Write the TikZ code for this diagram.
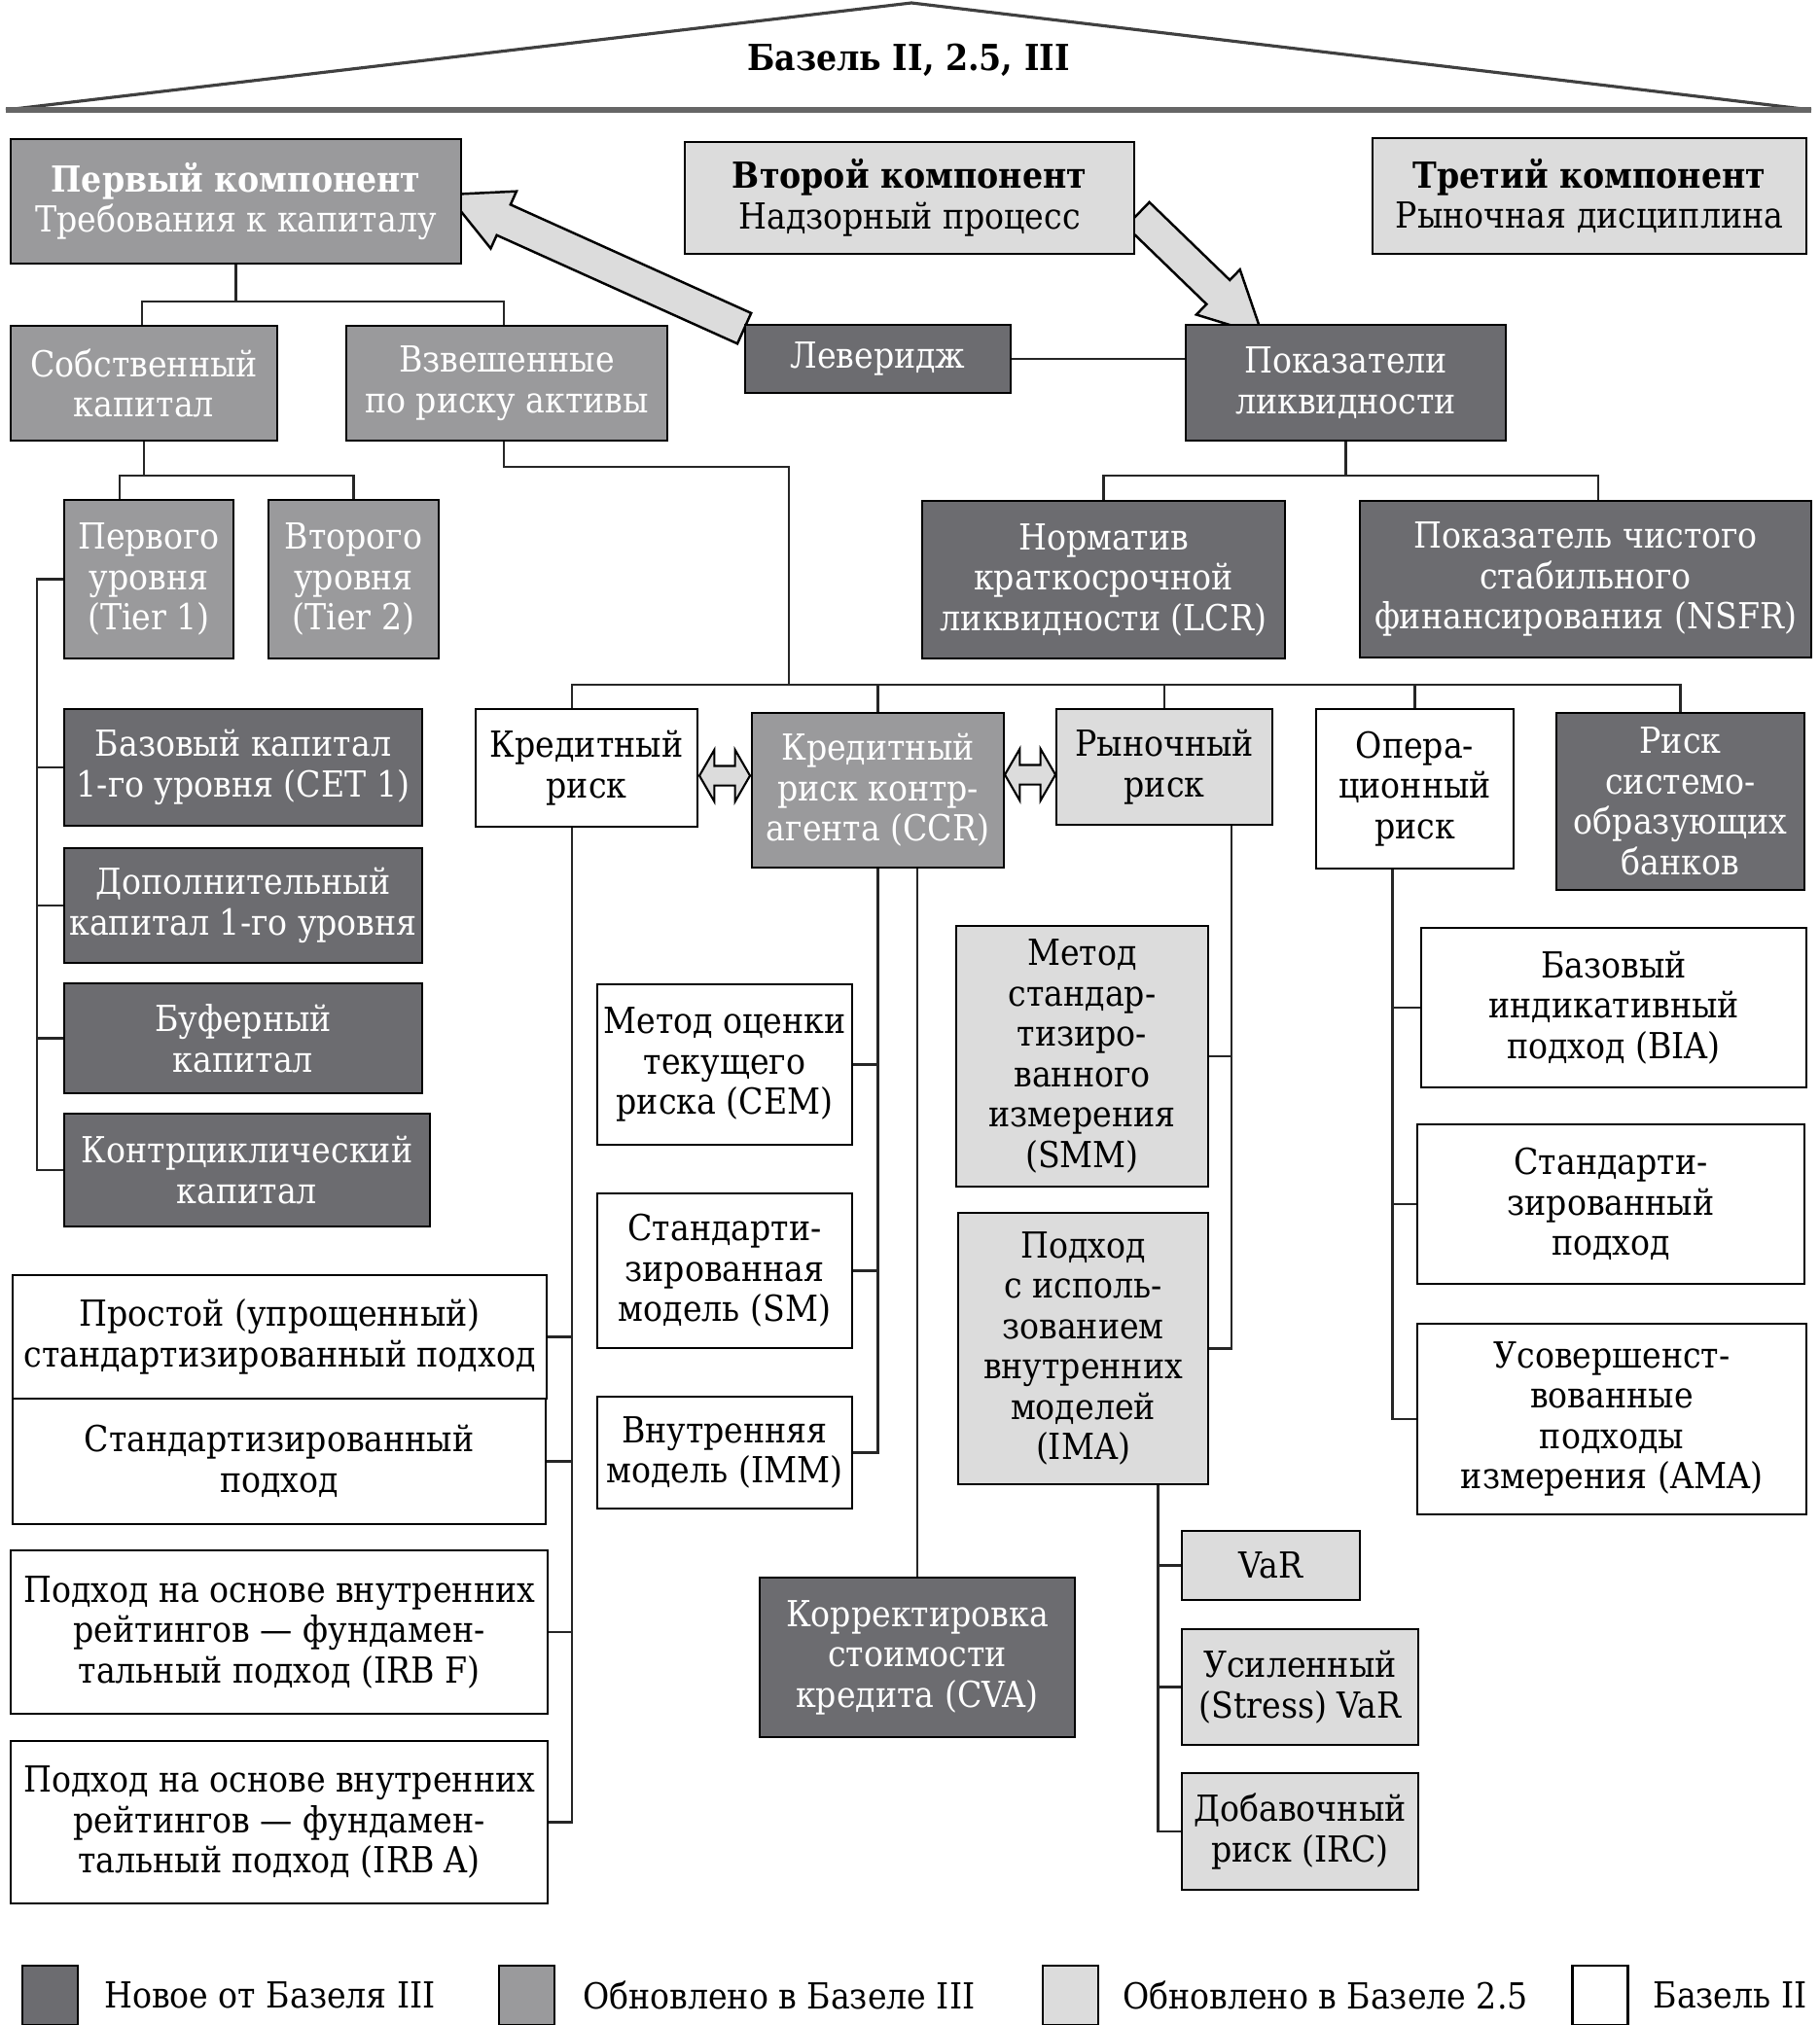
\documentclass[tikz,border=0pt]{standalone}
\usepackage{fontspec}
\IfFontExistsTF{DejaVu Serif Condensed}{\setmainfont{DejaVu Serif Condensed}}{\setmainfont{Liberation Serif}}
\usepackage{tikz}
\usetikzlibrary{shapes,arrows.meta,positioning,calc,backgrounds}
\definecolor{newthree}{RGB}{108,108,112}
\definecolor{updthree}{RGB}{154,154,156}
\definecolor{updtwofive}{RGB}{220,220,220}
\newcommand{\bfont}{\fontsize{10.5}{11.8}\selectfont}

\begin{document}
\begin{tikzpicture}[
    sz/.style 2 args={minimum width=#1cm, minimum height=#2cm},
    box/.style={draw=black, line width=0.8pt, align=center, inner sep=1pt, font=\bfont},
    newb/.style={box, fill=newthree, text=white},
    updb/.style={box, fill=updthree, text=white},
    lightb/.style={box, fill=updtwofive},
    oldb/.style={box, fill=white},
    con/.style={line width=0.6pt, draw=black!85},
    fatarr/.style={single arrow, draw=black, line width=0.7pt, fill=updtwofive, inner xsep=0pt, inner ysep=0.16cm,
        single arrow head extend=0.15cm, single arrow tip angle=54},
    dblarr/.style={double arrow, draw=black, line width=0.6pt, fill=updtwofive, inner xsep=0pt, inner ysep=0.09cm,
        double arrow head extend=0.165cm, double arrow tip angle=120, minimum height=0.52cm},
    legtxt/.style={inner sep=0pt, font=\bfont, anchor=west}
]
    \useasboundingbox (0,0) rectangle (18.70,-20.82);

    % roof
    \draw[line width=0.9pt, black!75] (0.06,-1.13) -- (9.37,-0.03) -- (18.62,-1.13);
    \draw[line width=1.6pt, black!60] (0.06,-1.13) -- (18.62,-1.13);
    \node[font=\bfont\bfseries] (roof) at (9.34,-0.62) {Базель II, 2.5, III};

    % three components
    \node[updb, sz={4.63}{1.28}] (first) at (2.425,-2.07) {\textbf{Первый компонент}\\Требования к капиталу};
    \node[lightb, sz={4.62}{1.15}] (second) at (9.35,-2.035) {\textbf{Второй компонент}\\Надзорный процесс};
    \node[lightb, sz={4.46}{1.19}] (third) at (16.34,-2.015) {\textbf{Третий компонент}\\Рыночная дисциплина};

    \node[updb, sz={2.74}{1.18}] (sobst) at (1.48,-3.94) {Собственный\\капитал};
    \node[updb, sz={3.30}{1.18}] (vzv) at (5.21,-3.94) {Взвешенные\\по риску активы};
    \node[newb, sz={2.73}{0.70}] (lev) at (9.025,-3.69) {Леверидж};
    \node[newb, sz={3.29}{1.19}] (liq) at (13.835,-3.935) {Показатели\\ликвидности};

    \node[updb, sz={1.74}{1.63}] (tier1) at (1.53,-5.955) {Первого\\уровня\\(Tier 1)};
    \node[updb, sz={1.75}{1.63}] (tier2) at (3.635,-5.955) {Второго\\уровня\\(Tier 2)};
    \node[newb, sz={3.73}{1.62}] (lcr) at (11.345,-5.96) {Норматив\\краткосрочной\\ликвидности (LCR)};
    \node[newb, sz={4.64}{1.61}] (nsfr) at (16.30,-5.955) {Показатель чистого\\стабильного\\финансирования (NSFR)};

    % capital
    \node[newb, sz={3.68}{1.20}] (cet1) at (2.50,-7.89) {Базовый капитал\\1-го уровня (CET 1)};
    \node[newb, sz={3.68}{1.18}] (dop) at (2.50,-9.31) {Дополнительный\\капитал 1-го уровня};
    \node[newb, sz={3.68}{1.13}] (buf) at (2.50,-10.675) {Буферный\\капитал};
    \node[newb, sz={3.76}{1.16}] (kontr) at (2.54,-12.03) {Контрциклический\\капитал};

    % risks
    \node[oldb, sz={2.28}{1.21}] (kr) at (6.03,-7.895) {Кредитный\\риск};
    \node[updb, sz={2.59}{1.59}] (ccr) at (9.025,-8.125) {Кредитный\\риск контр-\\агента (CCR)};
    \node[lightb, sz={2.22}{1.19}] (mr) at (11.97,-7.885) {Рыночный\\риск};
    \node[oldb, sz={2.03}{1.64}] (opr) at (14.545,-8.11) {Опера-\\ционный\\риск};
    \node[newb, sz={2.55}{1.82}] (sib) at (17.275,-8.24) {Риск\\системо-\\образующих\\банков};

    \node[oldb, sz={5.49}{1.27}] (prost) at (2.875,-13.745) {Простой (упрощенный)\\стандартизированный подход};
    \node[oldb, sz={5.48}{1.29}] (stand) at (2.87,-15.025) {Стандартизированный\\подход};
    \node[oldb, sz={5.52}{1.68}] (irbf) at (2.87,-16.78) {Подход на основе внутренних\\рейтингов — фундамен-\\тальный подход (IRB F)};
    \node[oldb, sz={5.52}{1.67}] (irba) at (2.87,-18.735) {Подход на основе внутренних\\рейтингов — фундамен-\\тальный подход (IRB A)};

    \node[oldb, sz={2.62}{1.65}] (cem) at (7.45,-10.945) {Метод оценки\\текущего\\риска (CEM)};
    \node[oldb, sz={2.62}{1.59}] (sm) at (7.45,-13.065) {Стандарти-\\зированная\\модель (SM)};
    \node[oldb, sz={2.62}{1.15}] (imm) at (7.45,-14.935) {Внутренняя\\модель (IMM)};
    \node[newb, sz={3.24}{1.64}] (cva) at (9.43,-17.04) {Корректировка\\стоимости\\кредита (CVA)};

    \node[lightb, sz={2.59}{2.68}] (smm) at (11.125,-10.86) {Метод\\стандар-\\тизиро-\\ванного\\измерения\\(SMM)};
    \node[lightb, sz={2.57}{2.79}] (ima) at (11.135,-13.865) {Подход\\с исполь-\\зованием\\внутренних\\моделей\\(IMA)};
    \node[lightb, sz={1.83}{0.71}] (var) at (13.065,-16.095) {VaR};
    \node[lightb, sz={2.43}{1.19}] (svar) at (13.365,-17.345) {Усиленный\\(Stress) VaR};
    \node[lightb, sz={2.43}{1.20}] (irc) at (13.365,-18.83) {Добавочный\\риск (IRC)};

    \node[oldb, sz={3.96}{1.64}] (bia) at (16.59,-10.36) {Базовый\\индикативный\\подход (BIA)};
    \node[oldb, sz={3.98}{1.64}] (ostand) at (16.56,-12.38) {Стандарти-\\зированный\\подход};
    \node[oldb, sz={4.00}{1.96}] (ama) at (16.57,-14.59) {Усовершенст-\\вованные\\подходы\\измерения (AMA)};

    % connectors
    \coordinate (b1) at ($(first.south)+(0,-0.38)$);
    \draw[con] (first.south) -- (b1);
    \draw[con] ([xshift=-0.02cm]sobst.north) |- (b1) -| ([xshift=-0.03cm]vzv.north);
    \draw[con] (lev.east) -- (lev.east -| liq.west);

    \coordinate (b2) at ($(sobst.south)+(0,-0.35)$);
    \draw[con] (sobst.south) -- (b2);
    \draw[con] ([xshift=-0.30cm]tier1.north) |- (b2) -| (tier2.north);
    \draw[con] (tier1.west) -| ($(kontr.west)+(-0.27,0)$) -- (kontr.west);
    \foreach \n in {cet1,dop,buf}
        \draw[con] (\n.west) -- ++(-0.27,0);

    \coordinate (b5) at ($(liq.south)+(0,-0.35)$);
    \draw[con] (liq.south) -- (b5);
    \draw[con] (lcr.north) |- (b5) -| ([xshift=0.13cm]nsfr.north);

    \coordinate (b4) at (8.11,-7.04);
    \draw[con] ([xshift=-0.03cm]vzv.south) -- ++(0,-0.26) -| (b4);
    \draw[con] ([xshift=-0.15cm]kr.north) |- (sib.north |- b4) -- (sib.north);
    \foreach \n in {ccr,mr,opr}
        \draw[con] (\n.north) -- (\n.north |- b4);

    \coordinate (kb) at ([xshift=-0.15cm]kr.south);
    \draw[con] (kb) |- (irba.east);
    \foreach \n in {prost,stand,irbf}
        \draw[con] (\n.east) -- (\n.east -| kb);

    \draw[con] (ccr.south) |- (imm.east);
    \foreach \n in {cem,sm}
        \draw[con] (\n.east) -- (\n.east -| ccr.south);
    \draw[con] (cva.north) -- (cva.north |- ccr.south);

    \coordinate (mb) at ([xshift=0.69cm]mr.south);
    \draw[con] (mb) |- (ima.east);
    \draw[con] (smm.east) -- (smm.east -| mb);

    \coordinate (ib) at ([xshift=0.77cm]ima.south);
    \draw[con] (ib) |- (irc.west);
    \foreach \n in {var,svar}
        \draw[con] (\n.west) -- (\n.west -| ib);

    \coordinate (ob) at ([xshift=-0.23cm]opr.south);
    \draw[con] (ob) |- (ama.west);
    \foreach \n in {bia,ostand}
        \draw[con] (\n.west) -- (\n.west -| ob);

    % fat arrows, tails tucked under the boxes
    \begin{scope}[on background layer]
    \path let \p1=($(lev.north west)+(0.16,-0.12)$), \p2=(first.east),
        \n1={atan2(\y2-\y1,\x2-\x1)}, \n2={veclen(\x2-\x1,\y2-\y1)} in
        node[fatarr, rotate=\n1, minimum height=\n2] (a1) at ($(\p1)!0.5!(\p2)$) {};
    \path let \p1=($(second.east)+(-0.1,-0.05)$), \p2=($(liq.north west)+(0.68,0)$),
        \n1={atan2(\y2-\y1,\x2-\x1)}, \n2={veclen(\x2-\x1,\y2-\y1)} in
        node[fatarr, rotate=\n1, minimum height=\n2] (a2) at ($(\p1)!0.5!(\p2)$) {};
    \end{scope}

    \node[dblarr] (d1) at ($(kr.east)!0.5!(ccr.west |- kr.east)+(0,-0.08)$) {};
    \node[dblarr] (d2) at ($(ccr.east |- mr.west)!0.5!(mr.west)+(0,-0.08)$) {};

    % legend
    \node[newb, sz={0.57}{0.61}] (lg1) at (0.515,-20.515) {};
    \node[legtxt, right=0.25cm of lg1] {Новое от Базеля III};
    \node[updb, sz={0.57}{0.61}] (lg2) at (5.415,-20.515) {};
    \node[legtxt, right=0.27cm of lg2] {Обновлено в Базеле III};
    \node[lightb, sz={0.57}{0.61}] (lg3) at (11.005,-20.515) {};
    \node[legtxt, right=0.23cm of lg3] {Обновлено в Базеле 2.5};
    \node[oldb, sz={0.57}{0.61}] (lg4) at (16.45,-20.515) {};
    \node[legtxt, right=0.24cm of lg4] {Базель II};
\end{tikzpicture}
\end{document}
